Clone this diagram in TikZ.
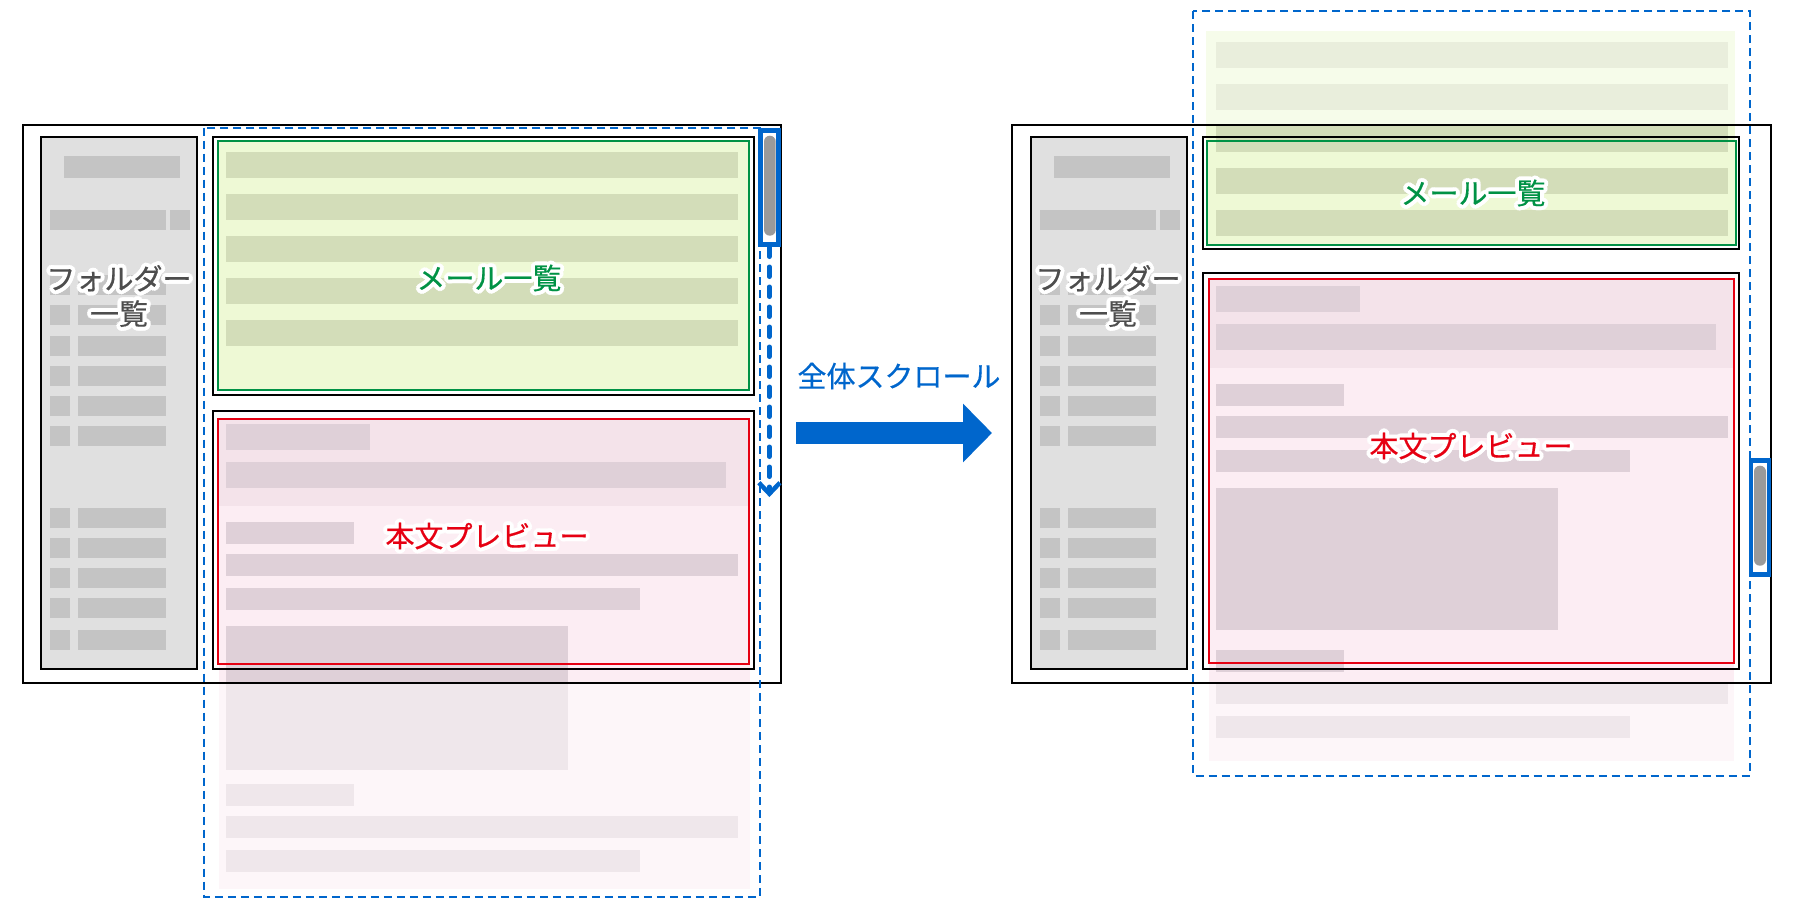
\documentclass[tikz,border=0pt]{standalone}
\usepackage{fontspec}
\newfontfamily\jpfont[FakeBold=0.5]{Noto Sans CJK JP}
\usetikzlibrary{arrows.meta}

\definecolor{folderbg}{HTML}{E0E0E0}
\definecolor{folderbar}{HTML}{C4C4C4}
\definecolor{foldertext}{HTML}{4D4D4D}
\definecolor{greenbg}{HTML}{EEF9D5}
\definecolor{greenbar}{HTML}{D3DDB9}
\definecolor{pinkbg}{HTML}{FCEDF3}
\definecolor{pinkhead}{HTML}{F4E3EA}
\definecolor{pinkbar}{HTML}{DFD0D8}
\definecolor{mailgreen}{HTML}{009245}
\definecolor{prevred}{HTML}{E60012}
\definecolor{scrollblue}{HTML}{0066CC}
\definecolor{thumbgray}{HTML}{9A9A9A}

% white outline behind a label
\newcommand\haloat[3]{\rlap{\kern#1\raisebox{#2}{\textcolor{white}{#3}}}}
\newcommand\halotext[2]{%
  \foreach \hx/\hy in {4/0,3.7/1.53,2.83/2.83,1.53/3.7,0/4,-1.53/3.7,-2.83/2.83,-3.7/1.53,-4/0,-3.7/-1.53,-2.83/-2.83,-1.53/-3.7,0/-4,1.53/-3.7,2.83/-2.83,3.7/-1.53}{\haloat{\hx pt}{\hy pt}{#2}}%
  \textcolor{#1}{#2}}

\begin{document}
\begin{tikzpicture}[x=1pt, y=-1pt,
    win/.style={draw=black, line width=2},
    box/.style={draw=black, line width=2},
    panel/.style={draw=black, line width=2, fill=folderbg},
    mailline/.style={draw=mailgreen, line width=2},
    prevline/.style={draw=prevred, line width=2},
    viewdash/.style={draw=scrollblue, line width=2, dash pattern=on 8pt off 5pt},
    scrollbox/.style={draw=scrollblue, line width=4.5, inner sep=0, minimum width=18, minimum height=114.2},
    lbl/.style={font=\jpfont\fontsize{29}{35}\selectfont, inner sep=0, align=center}]
    \useasboundingbox (0,0) rectangle (1800,906);

    % Left: page content
    \fill[greenbg] (218,140.6) rectangle (749,389.7);
    \foreach \y in {152,194,236,278,320}
        \fill[greenbar] (226,\y) rectangle (738,\y+26);
    \fill[pinkbg] (219,419) rectangle (750,889);
    \fill[pinkhead] (219,419) rectangle (750,506);
    \foreach \ya/\yb/\xb in {424/450/370, 462/488/726, 522/544/354, 554/576/738, 588/610/640,
                             626/770/568, 784/806/354, 816/838/738, 850/872/640}
        \fill[pinkbar] (226,\ya) rectangle (\xb,\yb);

    % Right: page content, scrolled
    \fill[greenbg] (1206,31) rectangle (1735,245);
    \foreach \y in {42,84,126,168,210}
        \fill[greenbar] (1216,\y) rectangle (1728,\y+26);
    \fill[pinkbg] (1209,278.7) rectangle (1734,761);
    \fill[pinkhead] (1209,278.7) rectangle (1734,368);
    \foreach \ya/\yb/\xb in {286/312/1360, 324/350/1716, 384/406/1344, 416/438/1728, 450/472/1630,
                             488/630/1558, 650/672/1344, 682/704/1728, 716/738/1630}
        \fill[pinkbar] (1216,\ya) rectangle (\xb,\yb);

    % Fade what lies outside the window
    \fill[white, opacity=0.5] (204,683) rectangle (760,897);
    \fill[white, opacity=0.5] (1193,11) rectangle (1750,125);
    \fill[white, opacity=0.5] (1193,683) rectangle (1750,776);

    % Windows
    \draw[win] (23,125) rectangle (781,683);
    \draw[win] (1012.4,125) rectangle (1770.8,683);

    % Folder panels
    \foreach \dx in {0,990} {
        \draw[panel] (40.8+\dx,136.8) rectangle (197.4+\dx,668.7);
        \fill[folderbar] (64+\dx,156) rectangle (180+\dx,178);
        \fill[folderbar] (50+\dx,210) rectangle (166+\dx,230);
        \fill[folderbar] (170+\dx,210) rectangle (190+\dx,230);
        \foreach \y in {275,305,336,366,396,426,508,538,568,598,630} {
            \fill[folderbar] (50+\dx,\y) rectangle (70+\dx,\y+20);
            \fill[folderbar] (78+\dx,\y) rectangle (166+\dx,\y+20);
        }
    }

    % Mail list and preview boxes
    \draw[box] (212.8,136.8) rectangle (753.6,395);
    \draw[mailline] (218,140.6) rectangle (749,389.7);
    \draw[box] (212.8,410.5) rectangle (753.6,668.7);
    \draw[prevline] (218.4,419) rectangle (749.4,664);
    \draw[box] (1203,136.7) rectangle (1739,248.7);
    \draw[mailline] (1206.5,140.7) rectangle (1735.7,245);
    \draw[box] (1203,272.7) rectangle (1739,668.7);
    \draw[prevline] (1208.6,278.7) rectangle (1733.7,663.3);

    % Whole page outlines
    \draw[viewdash] (204,127.5) rectangle (760,896.7);
    \draw[viewdash] (1193.4,11) rectangle (1750,775.7);

    % Scrollbars
    \node[scrollbox] (sbL) at (769.4,187.4) {};
    \fill[thumbgray, rounded corners=5.8] (764,135.7) rectangle (775.7,235.7);
    \node[scrollbox] (sbR) at (1759.8,517.4) {};
    \fill[thumbgray, rounded corners=5.8] (1754,465.7) rectangle (1766,565.7);

    % Scroll arrows
    \coordinate (sbEnd) at (769.4,497);
    \draw[scrollblue, line width=4.5, dash pattern=on 10pt off 10pt, line cap=round,
          -{Straight Barb[length=11pt,width=21pt]}] (sbL.south) -- (sbEnd);
    \coordinate (bigA) at (796,433);
    \coordinate (bigB) at (992,433);
    \draw[scrollblue, line width=22.6, -{Triangle[length=29pt,width=57pt]}] (bigA) -- (bigB);
    \node[lbl, text=scrollblue] (scrollL) at (899,376) {全体スクロール};

    % Labels
    \node[lbl] (folderL) at (119,296) {\halotext{foldertext}{フォルダー}\\\halotext{foldertext}{一覧}};
    \node[lbl] (mailL) at (489,278) {\halotext{mailgreen}{メール一覧}};
    \node[lbl] (prevL) at (487,536) {\halotext{prevred}{本文プレビュー}};
    \node[lbl] (folderR) at (1108,296) {\halotext{foldertext}{フォルダー}\\\halotext{foldertext}{一覧}};
    \node[lbl] (mailR) at (1473,193) {\halotext{mailgreen}{メール一覧}};
    \node[lbl] (prevR) at (1471,446) {\halotext{prevred}{本文プレビュー}};

\end{tikzpicture}
\end{document}
